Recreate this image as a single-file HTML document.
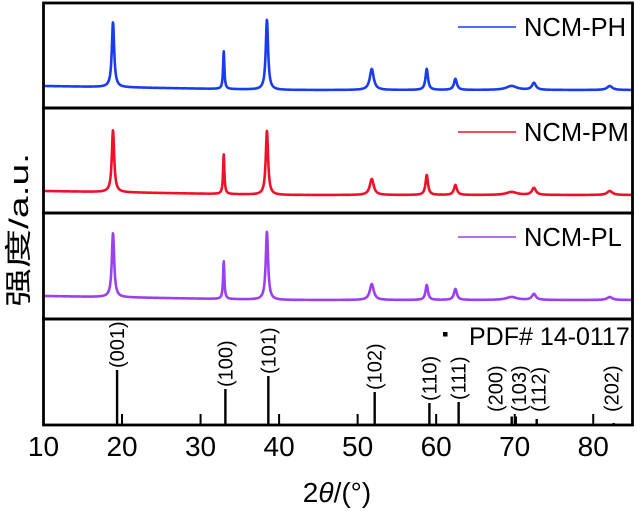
<!DOCTYPE html>
<html><head><meta charset="utf-8"><style>
html,body{margin:0;padding:0;background:#fff;}
svg{display:block;font-family:"Liberation Sans","Noto Sans CJK SC",sans-serif;}
</style></head><body>
<svg id="chart" width="637" height="511" viewBox="0 0 637 511"></svg>
<script>
// ---- data ----
const xTicks = [10,20,30,40,50,60,70,80];
const seriesNames = ["NCM-PH","NCM-PM","NCM-PL"];
const seriesColors = ["#1a3cf0","#f0102a","#9a40f0"];
const peakPos = [18.85, 32.95, 38.45, 51.8, 58.8, 62.45, 69.6, 72.45, 82.1];
const peakWidth = [0.36, 0.2, 0.36, 0.6, 0.38, 0.45, 1.6, 0.6, 0.8];
const phHeights = [65, 38, 70, 21, 21, 11, 4, 7, 4];
const pmHeights = [62, 40, 64, 16, 20, 10, 3, 7, 4];
const plHeights = [64, 38, 68, 16, 15, 11, 3, 6, 3];
const refPos = [19.37, 33.16, 38.63, 52.17, 59.14, 62.86, 69.62, 70.14, 72.8, 82.6];
const refInt = [55, 36, 49, 33, 22, 23, 8.5, 8.5, 6, 2];
const refLabels = ["(001)","(100)","(101)","(102)","(110)","(111)","(200)","(103)","(112)","(202)"];

// ---- layout ----
const svg = document.getElementById('chart');
const NS = 'http://www.w3.org/2000/svg';
const L = 43.5, R = 632.5;
const panels = [[3,108],[108,213],[213,319],[319,425]];
const labelShift = [0,0,0,0,0,0,-16,3,2,-2];
const xMin = 10, xMax = 85;
function X(v){ return L + (v - xMin) / (xMax - xMin) * (R - L); }
function mk(tag, attrs, parent){
  const e = document.createElementNS(NS, tag);
  for (const k in attrs) e.setAttribute(k, attrs[k]);
  (parent || svg).appendChild(e);
  return e;
}
const allHeights = [phHeights, pmHeights, plHeights];

// series
for (let s = 0; s < 3; s++) {
  const top = panels[s][0];
  const base0 = top + 83, base1 = top + 87;
  let d = '';
  for (let v = xMin; v <= xMax; v += 0.04) {
    let y = base0 + (base1 - base0) * Math.min(1, (v - 10) / 30);
    for (let p = 0; p < peakPos.length; p++) {
      const g = peakWidth[p] / 2;
      y -= allHeights[s][p] * (g * g) / ((v - peakPos[p]) ** 2 + g * g);
    }
    d += (d ? 'L' : 'M') + X(v).toFixed(2) + ',' + y.toFixed(2);
  }
  const path = mk('path', {d: d, fill: 'none', stroke: seriesColors[s], 'stroke-width': 2.6, 'stroke-linejoin': 'round'});
  
  
  const ly = top + 24;
  const ll = mk('line', {x1: 458, x2: 516, y1: ly, y2: ly, stroke: seriesColors[s], 'stroke-width': 1.5});
  
  
  const lt = mk('text', {x: 524, y: ly + 9, 'font-size': 25.5, fill: '#000'});
  lt.textContent = seriesNames[s];
  
  
}

// reference sticks
const refBase = 425;
for (let i = 0; i < refPos.length; i++) {
  const x = X(refPos[i]);
  const h = refInt[i];
  const st = mk('line', {x1: x, x2: x, y1: refBase, y2: refBase - h, stroke: '#000', 'stroke-width': 2.4});
  
  
  const ly = refBase - Math.max(h, 11) - 2;
  const tx = mk('text', {x: 0, y: 0, 'font-size': 20, fill: '#000', transform: 'translate(' + (x + 7 + labelShift[i]) + ',' + ly + ') rotate(-90)'});
  tx.textContent = refLabels[i];
  
  
}
const sq = mk('rect', {x: 443, y: 332, width: 4.5, height: 4.5, fill: '#000'});


const pdf = mk('text', {x: 469, y: 345, 'font-size': 25, fill: '#000'});
pdf.textContent = 'PDF# 14-0117';



// x ticks (bottom axis)
for (const t of xTicks) {
  const x = X(t);
  if (t > xMin) {
    const tk = mk('line', {x1: x, x2: x, y1: 425, y2: 414, stroke: '#000', 'stroke-width': 2});
    
    
  }
  const lb = mk('text', {x: x, y: 456, 'font-size': 28, 'text-anchor': 'middle', fill: '#000'});
  lb.textContent = t;
  
  
}

// frames
for (let i = 0; i < panels.length; i++) {
  const r = mk('rect', {x: L, y: panels[i][0], width: R - L, height: panels[i][1] - panels[i][0], fill: 'none', stroke: '#000', 'stroke-width': 2.8});
  
  
}

// titles
const xt = mk('text', {x: 337, y: 502, 'font-size': 28, 'text-anchor': 'middle', fill: '#000'});
xt.innerHTML = '2<tspan font-style="italic">θ</tspan>/(°)';


const yt = mk('text', {x: 0, y: 0, 'font-size': 27, 'text-anchor': 'middle', fill: '#000', textLength: 154, lengthAdjust: 'spacingAndGlyphs', transform: 'translate(28,230) rotate(-90)'});
yt.textContent = '强度/a.u.';


</script>
</body></html>
